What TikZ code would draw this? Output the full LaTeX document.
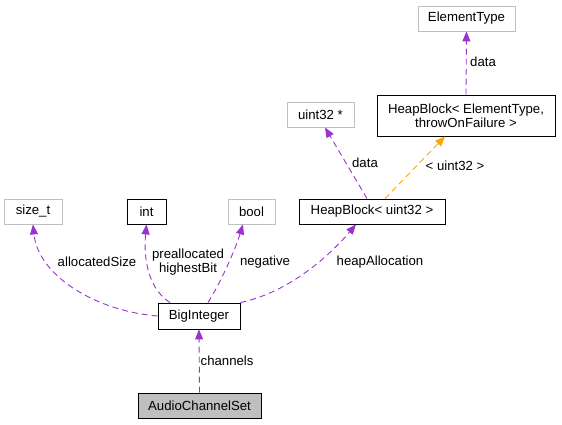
\documentclass[tikz,border=0pt]{standalone}
\usepackage{fontspec}
\setmainfont{Liberation Sans}
\usetikzlibrary{arrows.meta, positioning, calc}

\definecolor{edgepurple}{RGB}{154,50,205}
\definecolor{edgeorange}{RGB}{255,165,0}
\definecolor{boxgray}{RGB}{191,191,191}
\definecolor{linegray}{RGB}{191,191,191}

\begin{document}
\begin{tikzpicture}[x=1pt, y=-1pt,
    every node/.style={font=\fontsize{13.2}{14}\selectfont},
    cls/.style={draw=black, line width=0.9pt, inner sep=0pt, minimum height=25pt, align=center},
    ext/.style={draw=linegray, line width=0.9pt, inner sep=0pt, minimum height=25pt},
    usage/.style={draw=edgepurple, line width=0.9pt, dash pattern=on 6pt off 4pt, -{Triangle[length=10pt, width=8pt]}},
    templ/.style={draw=edgeorange, line width=0.9pt, dash pattern=on 6pt off 4pt, -{Triangle[length=10pt, width=8pt, fill=edgeorange]}},
    lbl/.style={align=center, inner sep=1pt}]
\useasboundingbox (0,0) rectangle (562,424);

% Top row
\node[ext, minimum width=97pt] (elemtype) at (466.5,18.5) {ElementType};
\node[cls, minimum width=178pt, minimum height=41pt] (hbtempl) at (466,115.5) {HeapBlock< ElementType,\\throwOnFailure >};
\node[ext, minimum width=67pt] (uintptr) at (320.5,114.5) {uint32 *};

% Member types
\node[ext, minimum width=58pt] (sizet) at (33,211.5) {size\_t};
\node[cls, minimum width=39pt] (int) at (146.5,211.5) {int};
\node[ext, minimum width=47pt] (bool) at (251.5,211.5) {bool};
\node[cls, minimum width=146pt] (hbuint) at (372,211.5) {HeapBlock< uint32 >};

% Classes
\node[cls, minimum width=82pt, minimum height=26pt] (bigint) at (199,316) {BigInteger};
\node[cls, fill=boxgray, minimum width=123pt] (acs) at (199.5,405.5) {AudioChannelSet};

% Edges
\draw[usage] (acs.north) -- (bigint.south) node[lbl, midway, right] {channels};
\draw[usage] (bigint.west) .. controls (95,311) and (38,275) .. (sizet.south);
\node[lbl] (lalloc) at (97,262) {allocatedSize};
\draw[usage] (bigint.north -| 170,0) .. controls (150,290) and (143,262) .. (int.south);
\node[lbl] (lprealloc) at (188,262) {preallocated\\highestBit};
\draw[usage] (bigint.north -| 208,0) .. controls (222,280) and (235,250) .. (bool.south -| 243,0);
\node[lbl] (lneg) at (265,262) {negative};
\draw[usage] (bigint.north east) .. controls (290,292) and (330,255) .. (hbuint.south -| 356,0);
\node[lbl] (lheap) at (380,262) {heapAllocation};
\draw[usage] (hbuint.north -| 367,0) -- (uintptr.south -| 325,0);
\node[lbl] (ldata) at (365,163) {data};
\draw[templ] (hbuint.north -| 385,0) -- (hbtempl.south -| 445,0);
\node[lbl] (luint) at (455,166) {< uint32 >};
\draw[usage] (hbtempl.north) -- (elemtype.south);
\node[lbl] (ldata2) at (483,62) {data};
\end{tikzpicture}
\end{document}
